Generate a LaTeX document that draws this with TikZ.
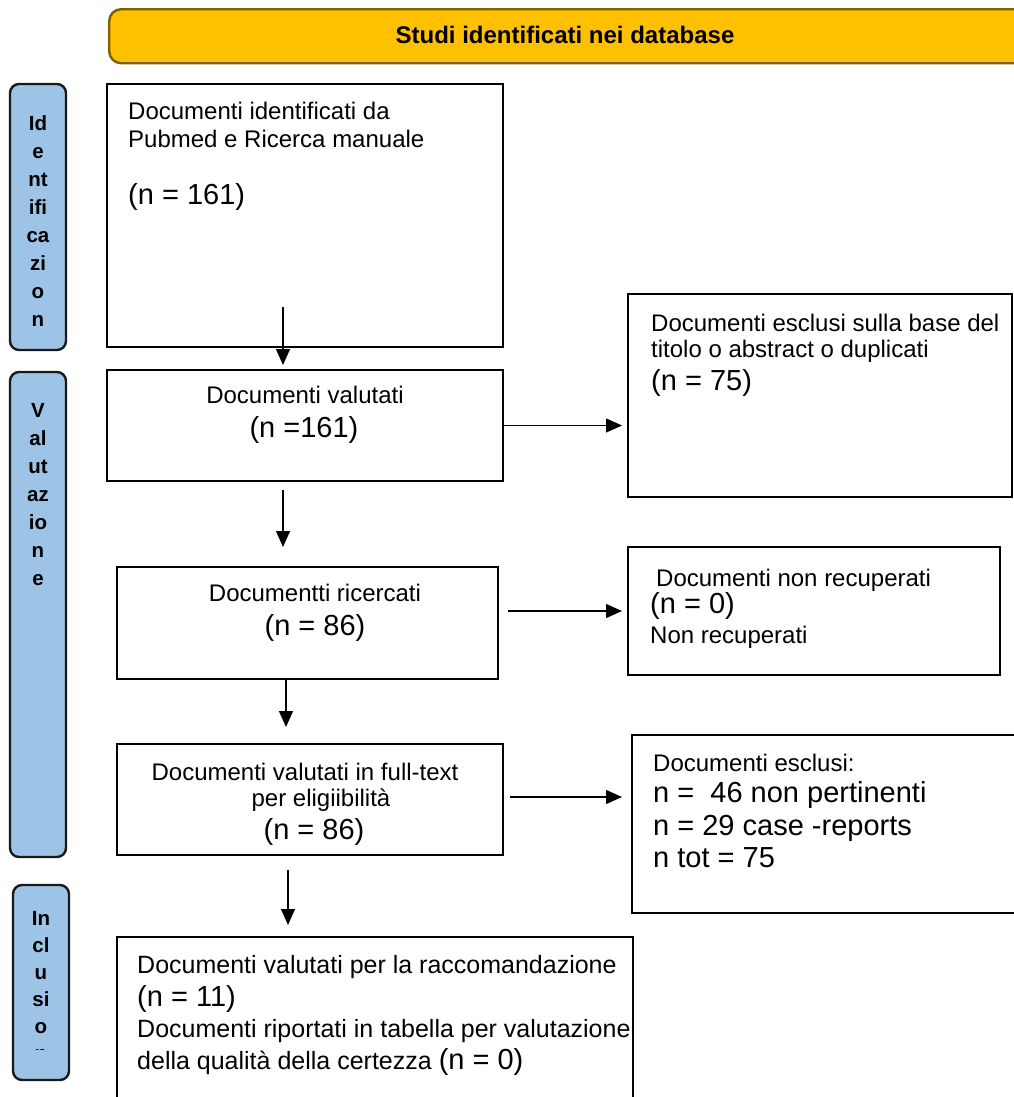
\documentclass[tikz,border=0pt]{standalone}
\usepackage{fontspec}
\setmainfont{Liberation Sans}
\usetikzlibrary{arrows.meta}
\definecolor{banner}{HTML}{FFC000}
\definecolor{bannerline}{HTML}{7F6000}
\definecolor{phase}{HTML}{9DC3E6}

\begin{document}
\begin{tikzpicture}[x=1bp,y=-1bp,
  box/.style={draw=black, line width=2.7bp, anchor=north west, inner sep=0, outer sep=0},
  phasebox/.style={draw=black!90, fill=phase, line width=2.4bp, rounded corners=9bp,
    anchor=north west, inner sep=0, outer sep=0, minimum width=56bp},
  txt/.style={font=\fontsize{24bp}{28bp}\selectfont, inner sep=0},
  txtl/.style={font=\fontsize{25bp}{30bp}\selectfont, inner sep=0},
  big/.style={font=\fontsize{29bp}{33bp}\selectfont, inner sep=0},
  phaselbl/.style={font=\bfseries\fontsize{20.5bp}{28bp}\selectfont, align=center, inner sep=0, anchor=north},
  arr/.style={line width=1.3bp, -{Triangle[length=16bp,width=14bp]}},
]
\useasboundingbox (0,0) rectangle (1014,1097);
\clip (0,0) rectangle (1014,1097);

% header banner
\node[draw=bannerline, fill=banner, line width=2.4bp, rounded corners=12bp,
  anchor=north west, inner sep=0, minimum width=950bp, minimum height=54bp] (title) at (108,8) {};
\node[font=\bfseries\fontsize{24bp}{28bp}\selectfont, inner sep=0] (titletext) at (565,35) {Studi identificati nei database};

% phase labels on the left
\node[phasebox, minimum height=266bp] (ph1) at (10,84) {};
\node[phaselbl] (ph1t) at (38,115) {Id\\e\\nt\\ifi\\ca\\zi\\o\\n};
\node[phasebox, minimum height=485bp] (ph2) at (10,372) {};
\node[phaselbl] (ph2t) at (38,403) {V\\al\\ut\\az\\io\\n\\e};
\node[phasebox, minimum height=195bp] (ph3) at (13,885) {};
\begin{scope}
  \clip (13,885) rectangle (69,1049);
  \node[phaselbl, font=\bfseries\fontsize{20.5bp}{27bp}\selectfont] (ph3t) at (41,911) {In\\cl\\u\\si\\o\\n};
\end{scope}

% main column boxes
\node[box, minimum width=396bp, minimum height=263bp] (A) at (107,84) {};
\node[box, minimum width=396bp, minimum height=111bp] (B) at (107,370) {};
\node[box, minimum width=381bp, minimum height=112bp] (D) at (117,567) {};
\node[box, minimum width=386bp, minimum height=111bp] (G) at (117,744) {};
\node[box, minimum width=516bp, minimum height=200bp] (H) at (117,937) {};

% exclusion boxes on the right
\node[box, minimum width=384bp, minimum height=203bp] (C) at (628,294) {};
\node[box, minimum width=372bp, minimum height=128bp] (E) at (628,547) {};
\node[box, minimum width=400bp, minimum height=178bp] (F) at (632,735) {};

% texts: identification
\node[txt, anchor=base west] (a1) at (128,119) {Documenti identificati da};
\node[txt, anchor=base west] (a2) at (128,147) {Pubmed e Ricerca manuale};
\node[big, anchor=base west] (a3) at (128,204) {(n = 161)};

\node[txt, anchor=base] (b1) at (305,403) {Documenti valutati};
\node[big, anchor=base] (b2) at (304,437) {(n =161)};

\node[txt, anchor=base west] (c1) at (651,331) {Documenti esclusi sulla base del};
\node[txt, anchor=base west] (c2) at (651,357) {titolo o abstract o duplicati};
\node[big, anchor=base west] (c3) at (651,390) {(n = 75)};

\node[txt, anchor=base] (d1) at (315,601) {Documentti ricercati};
\node[big, anchor=base] (d2) at (315,635) {(n = 86)};

\node[txt, anchor=base west] (e1) at (656,586) {Documenti non recuperati};
\node[big, anchor=base west] (e2) at (650,613) {(n = 0)};
\node[txt, anchor=base west] (e3) at (650,643) {Non recuperati};

\node[txt, anchor=base] (g1) at (305,780) {Documenti valutati in full-text};
\node[txt, anchor=base] (g2) at (321,806) {per eligiibilità};
\node[big, anchor=base] (g3) at (314,839) {(n = 86)};

\node[txt, anchor=base west] (f1) at (653,771) {Documenti esclusi:};
\node[big, anchor=base west] (f2) at (653,802) {n = \ 46 non pertinenti};
\node[big, anchor=base west] (f3) at (653,835) {n = 29 case -reports};
\node[big, anchor=base west] (f4) at (653,867) {n tot = 75};

\node[txtl, anchor=base west] (h1) at (137,973) {Documenti valutati per la raccomandazione};
\node[big, anchor=base west] (h2) at (137,1006) {(n = 11)};
\node[txtl, anchor=base west] (h3) at (137,1037) {Documenti riportati in tabella per valutazione};
\node[txtl, anchor=base west] (h4) at (137,1069) {della qualità della certezza {\fontsize{29bp}{33bp}\selectfont(n = 0)}};

% connectors
\coordinate (s1) at (283,307);
\coordinate (s2) at (283,490);
\coordinate (s3) at (508,611);
\coordinate (s4) at (286,680);
\coordinate (s5) at (510,797);
\coordinate (s6) at (288,870);
\draw[arr, shorten >=5bp] (s1) -- (s1 |- B.north);
\draw[arr, shorten >=6bp] (B.east) -- (B.east -| C.west);
\draw[arr, shorten >=20bp] (s2) -- (s2 |- D.north);
\draw[arr, shorten >=6bp] (s3) -- (s3 -| E.west);
\draw[arr, shorten >=17bp] (s4) -- (s4 |- G.north);
\draw[arr, shorten >=10bp] (s5) -- (s5 -| F.west);
\draw[arr, shorten >=12bp] (s6) -- (s6 |- H.north);
\end{tikzpicture}
\end{document}
